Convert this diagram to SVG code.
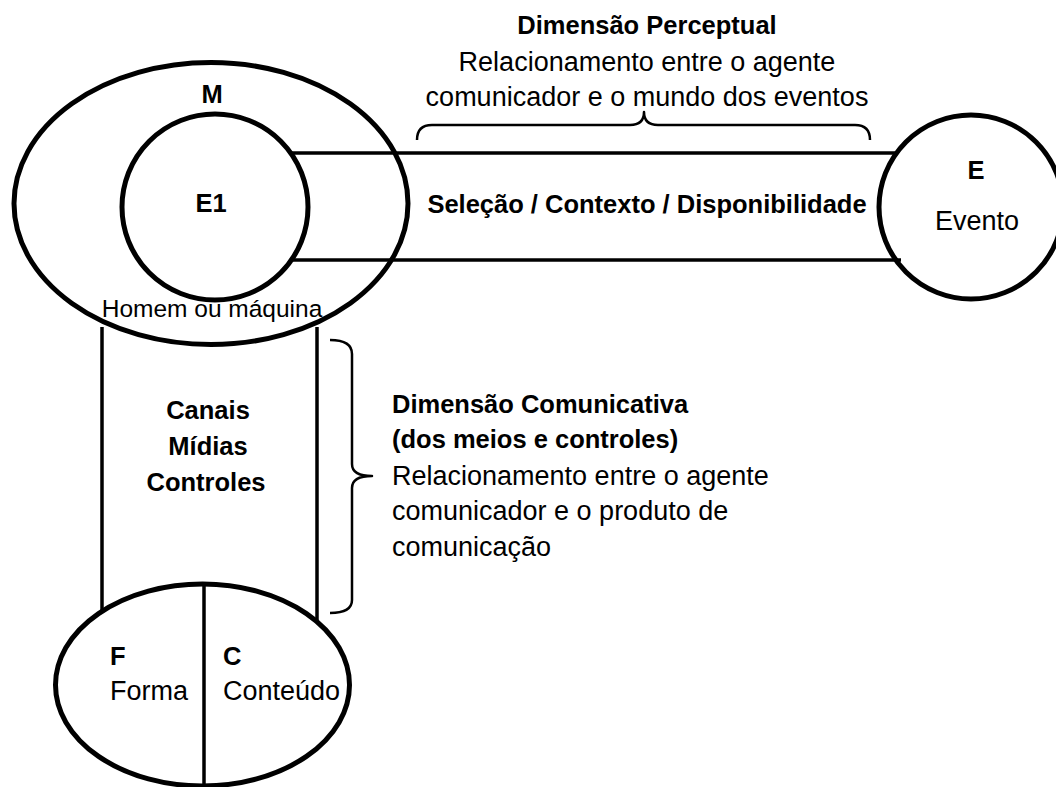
<svg xmlns="http://www.w3.org/2000/svg" width="1056" height="787" viewBox="0 0 1056 787">
<style>
  .shape { fill: none; stroke: #000; stroke-width: 5; }
  .line { fill: none; stroke: #000; stroke-width: 3.5; }
  .brace { fill: none; stroke: #000; stroke-width: 2.5; stroke-linejoin: round; }
  text { font-family: "Liberation Sans", Arial, sans-serif; fill: #000; }
  .b { font-weight: bold; font-size: 25.5px; }
  .r { font-size: 27px; }
  .c { text-anchor: middle; }
</style>
<rect width="1056" height="787" fill="#fff"/>

<g id="connectors">
  <line class="line" x1="292" y1="153" x2="897" y2="153"/>
  <line class="line" x1="293" y1="260" x2="901" y2="260"/>
  <line class="line" x1="102" y1="327" x2="102" y2="611"/>
  <line class="line" x1="317" y1="327" x2="317" y2="620"/>
</g>

<g id="node-M">
  <ellipse class="shape" cx="211" cy="203.5" rx="197" ry="141"/>
  <text class="b c" x="212" y="103">M</text>
  <text class="c" x="212" y="317" font-size="24.5">Homem ou máquina</text>
</g>

<g id="node-E1">
  <circle class="shape" cx="215" cy="207" r="93"/>
  <text class="b c" x="211" y="212">E1</text>
</g>

<g id="node-E">
  <circle class="shape" cx="971" cy="207" r="92"/>
  <text class="b c" x="976" y="179">E</text>
  <text class="r c" x="977" y="230" font-size="26">Evento</text>
</g>

<g id="node-band-perceptual">
  <text class="b c" x="647" y="213">Seleção / Contexto / Disponibilidade</text>
</g>

<g id="node-band-comunicativa">
  <text class="b c" x="208" y="419" font-size="27px">Canais</text>
  <text class="b c" x="208" y="455" font-size="27px">Mídias</text>
  <text class="b c" x="206" y="491" font-size="27px">Controles</text>
</g>

<g id="node-FC">
  <ellipse class="shape" cx="202.5" cy="685" rx="147" ry="101"/>
  <line class="line" x1="204" y1="584" x2="204" y2="787"/>
  <text class="b" x="110" y="665">F</text>
  <text class="r" x="110" y="700" font-size="26">Forma</text>
  <text class="b" x="223" y="665">C</text>
  <text class="r" x="223" y="700" font-size="26">Conteúdo</text>
</g>

<g id="label-perceptual">
  <path class="brace" d="M417,140 Q417,125 432,125 L630,125 Q644,125 644,112 Q644,125 658,125 L855,125 Q870,125 870,140"/>
  <text class="b c" x="647" y="34">Dimensão Perceptual</text>
  <text class="r c" x="647" y="71">Relacionamento entre o agente</text>
  <text class="r c" x="647" y="106">comunicador e o mundo dos eventos</text>
</g>

<g id="label-comunicativa">
  <path class="brace" d="M330,340 Q352,340 352,354 L352,464 Q352,476 372,476 Q352,476 352,488 L352,600 Q352,613 330,613"/>
  <text class="b" x="392" y="413">Dimensão Comunicativa</text>
  <text class="b" x="392" y="448">(dos meios e controles)</text>
  <text class="r" x="392" y="485">Relacionamento entre o agente</text>
  <text class="r" x="392" y="520">comunicador e o produto de</text>
  <text class="r" x="392" y="556">comunicação</text>
</g>
</svg>
